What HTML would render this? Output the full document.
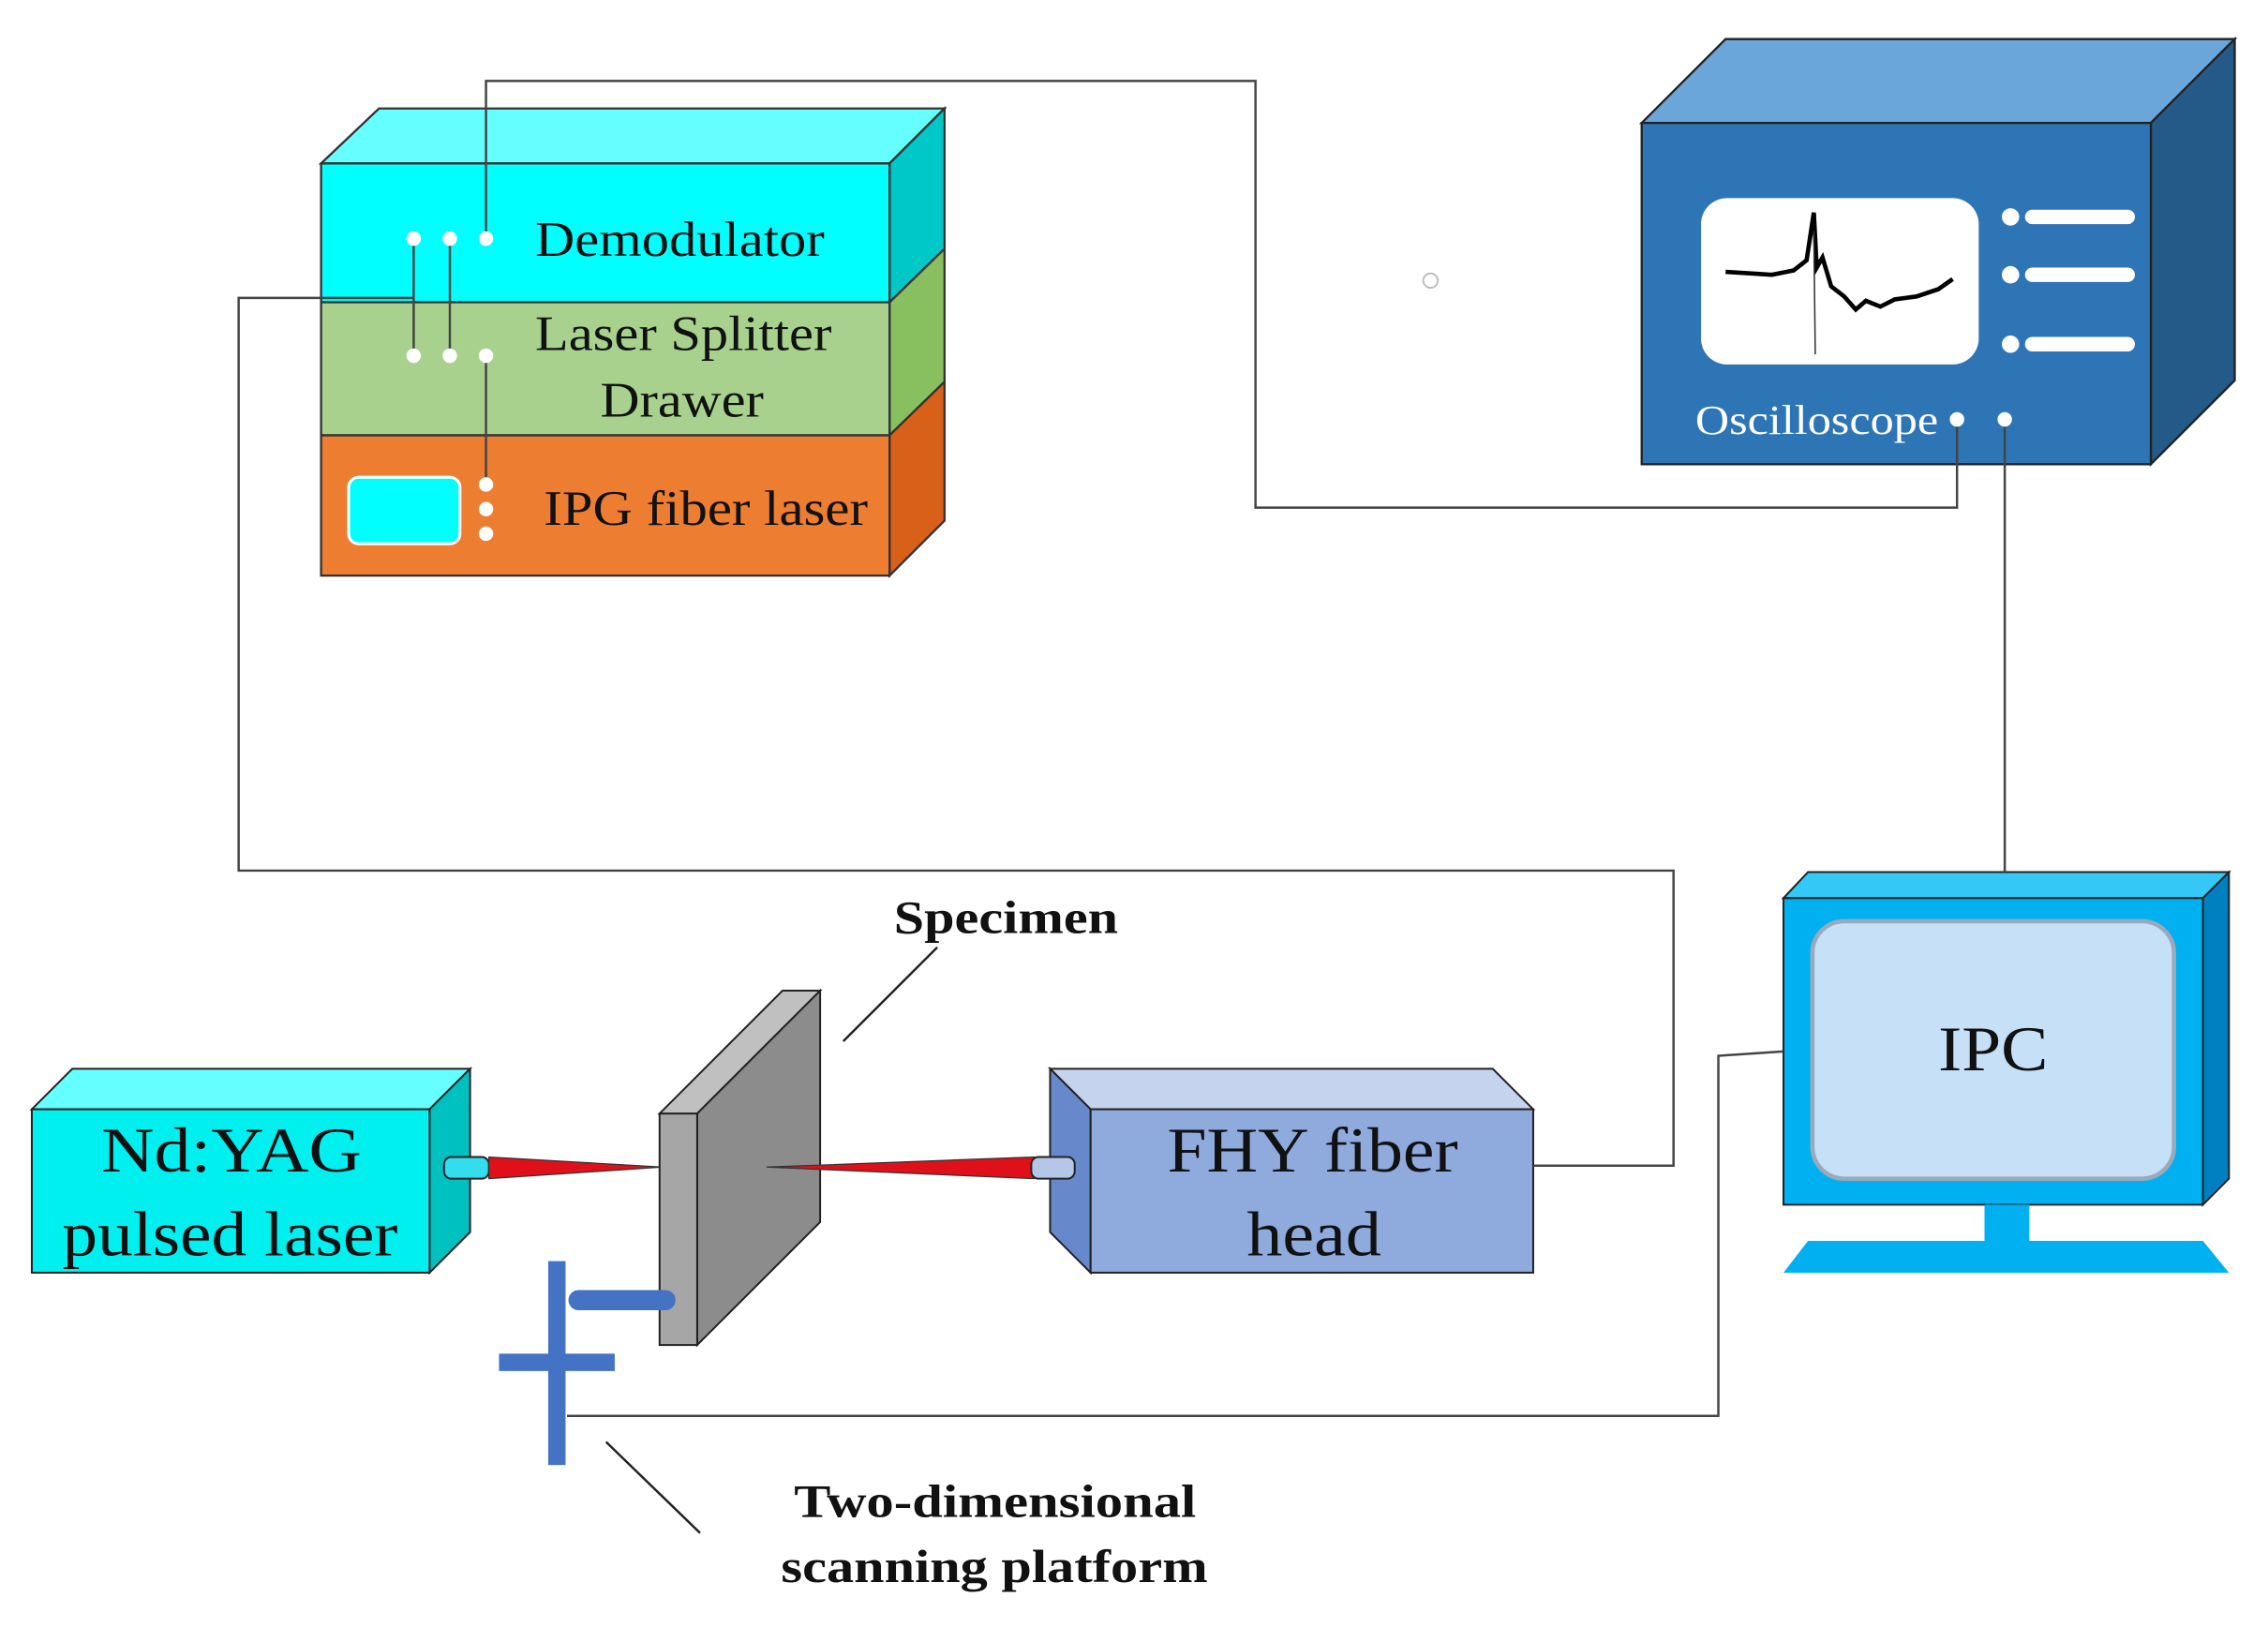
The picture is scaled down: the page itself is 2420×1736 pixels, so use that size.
<!DOCTYPE html>
<html><head><style>html,body{margin:0;padding:0;background:#fff;}svg{display:block}</style></head>
<body>
<svg width="2420" height="1736" viewBox="0 0 1568 1125" preserveAspectRatio="none" xmlns="http://www.w3.org/2000/svg" font-family="'Liberation Serif', serif">
<rect width="1568" height="1125" fill="#fff"/>
<circle cx="989" cy="194" r="5" fill="none" stroke="#bbb" stroke-width="1.2"/>

<!-- top stack -->
<g stroke="#333" stroke-width="1.5">
<polygon points="222,113 262,75 653,75 615,113" fill="#66ffff"/>
<polygon points="615,113 653,75 653,172 615,209" fill="#00c8c8"/>
<polygon points="615,209 653,172 653,264 615,301" fill="#88c060"/>
<polygon points="615,301 653,264 653,360 615,398" fill="#d86018"/>
<rect x="222" y="113" width="393" height="96" fill="#00ffff"/>
<rect x="222" y="209" width="393" height="92" fill="#a9d18e"/>
<rect x="222" y="301" width="393" height="97" fill="#ed7d31"/>
</g>
<rect x="241" y="330" width="77" height="46" rx="7" fill="#00ffff" stroke="#fff" stroke-width="2"/>
<g font-size="34" fill="#111">
<text x="370" y="177" textLength="200" lengthAdjust="spacingAndGlyphs">Demodulator</text>
<text x="370" y="242" textLength="205" lengthAdjust="spacingAndGlyphs">Laser Splitter</text>
<text x="415" y="288" textLength="113" lengthAdjust="spacingAndGlyphs">Drawer</text>
<text x="376" y="363" textLength="224" lengthAdjust="spacingAndGlyphs">IPG fiber laser</text>
</g>

<!-- oscilloscope -->
<g stroke="#222" stroke-width="1.5">
<polygon points="1135,85 1193,27 1545,27 1487,85" fill="#6aa6d9"/>
<polygon points="1487,85 1545,27 1545,263 1487,321" fill="#245a88"/>
<rect x="1135" y="85" width="352" height="236" fill="#2e75b6"/>
</g>
<rect x="1176" y="137" width="192" height="115" rx="18" fill="#fff"/>
<polyline points="1193,188 1210,189 1225,190 1240,187 1249,180 1254,147 1256,185 1260,178 1266,198 1275,205 1283,214 1290,208 1300,212 1310,207 1325,205 1340,200 1350,193" fill="none" stroke="#000" stroke-width="3"/>
<line x1="1254" y1="160" x2="1255" y2="245" stroke="#333" stroke-width="1"/>
<g fill="#fff">
<circle cx="1390" cy="150" r="6"/><rect x="1400" y="145" width="76" height="10" rx="5"/>
<circle cx="1390" cy="190" r="6"/><rect x="1400" y="185" width="76" height="10" rx="5"/>
<circle cx="1390" cy="238" r="6"/><rect x="1400" y="233" width="76" height="10" rx="5"/>
</g>
<text x="1172" y="300" font-size="29" fill="#fff" textLength="168" lengthAdjust="spacingAndGlyphs">Oscilloscope</text>

<!-- IPC -->
<g stroke="#222" stroke-width="1.3">
<polygon points="1233,621 1250,603 1541,603 1523,621" fill="#33c8f5"/>
<polygon points="1523,621 1541,603 1541,815 1523,833" fill="#0080c0"/>
<rect x="1233" y="621" width="290" height="212" fill="#00b0f0"/>
</g>
<rect x="1253" y="637" width="250" height="178" rx="22" fill="#c6e0f8" stroke="#9ab" stroke-width="3"/>
<text x="1340" y="740" font-size="44" fill="#111" textLength="76" lengthAdjust="spacingAndGlyphs">IPC</text>
<rect x="1372" y="833" width="31" height="25" fill="#00b0f0"/>
<polygon points="1250,858 1523,858 1541,880 1233,880" fill="#00b0f0"/>

<!-- Nd:YAG -->
<g stroke="#222" stroke-width="1.3">
<polygon points="22,767 50,739 325,739 297,767" fill="#66ffff"/>
<polygon points="297,767 325,739 325,852 297,880" fill="#00c0c0"/>
<rect x="22" y="767" width="275" height="113" fill="#00f0f0"/>
<rect x="307" y="800" width="31" height="15" rx="5" fill="#33ddee"/>
</g>
<g font-size="44" fill="#111">
<text x="70" y="810" textLength="180" lengthAdjust="spacingAndGlyphs">Nd:YAG</text>
<text x="43" y="868" textLength="232" lengthAdjust="spacingAndGlyphs">pulsed laser</text>
</g>
<polygon points="338,800 338,815 458,807" fill="#e0101a" stroke="#333" stroke-width="0.8"/>

<!-- specimen -->
<g stroke="#222" stroke-width="1.3">
<polygon points="456,770 541,685 567,685 482,770" fill="#c0c0c0"/>
<polygon points="482,770 567,685 567,845 482,930" fill="#8c8c8c"/>
<rect x="456" y="770" width="26" height="160" fill="#a6a6a6"/>
</g>
<polygon points="715,800 715,815 530,807" fill="#e0101a" stroke="#333" stroke-width="0.8"/>

<!-- FHY -->
<g stroke="#222" stroke-width="1.3">
<polygon points="726,739 1032,739 1060,767 754,767" fill="#c5d3ee"/>
<polygon points="726,739 754,767 754,880 726,852" fill="#6888cc"/>
<rect x="754" y="767" width="306" height="113" fill="#8faadc"/>
<rect x="713" y="800" width="30" height="15" rx="5" fill="#b4c7e7"/>
</g>
<g font-size="44" fill="#111">
<text x="807" y="810" textLength="201" lengthAdjust="spacingAndGlyphs">FHY fiber</text>
<text x="862" y="868" textLength="93" lengthAdjust="spacingAndGlyphs">head</text>
</g>

<!-- platform -->
<g fill="#4472c4">
<rect x="379" y="872" width="12" height="141"/>
<rect x="345" y="936" width="80" height="12"/>
<rect x="393" y="892" width="74" height="14" rx="7"/>
</g>

<!-- connectors (on top) -->
<g fill="none" stroke="#444" stroke-width="1.6">
<polyline points="336,165 336,56 868,56 868,351 1353,351 1353,290"/>
<polyline points="286,206 165,206 165,602 1157,602 1157,806 1060,806"/>
<polyline points="1386,290 1386,603"/>
<polyline points="1233,727 1188,730 1188,979 392,979"/>
<line x1="286" y1="165" x2="286" y2="246"/><line x1="311" y1="165" x2="311" y2="246"/><line x1="336" y1="246" x2="336" y2="335"/>
<line x1="648" y1="655" x2="583" y2="720" stroke="#222"/>
<line x1="419" y1="997" x2="484" y2="1060" stroke="#222"/>
</g>
<g fill="#fff">
<circle cx="286" cy="165" r="5"/><circle cx="311" cy="165" r="5"/><circle cx="336" cy="165" r="5"/>
<circle cx="286" cy="246" r="5"/><circle cx="311" cy="246" r="5"/><circle cx="336" cy="246" r="5"/>
<circle cx="336" cy="335" r="5"/><circle cx="336" cy="352" r="5"/><circle cx="336" cy="369" r="5"/>
<circle cx="1353" cy="290" r="5"/><circle cx="1386" cy="290" r="5"/>
</g>

<g font-size="32" font-weight="bold" fill="#111">
<text x="618" y="645" textLength="155" lengthAdjust="spacingAndGlyphs">Specimen</text>
<text x="549" y="1049" textLength="278" lengthAdjust="spacingAndGlyphs">Two-dimensional</text>
<text x="540" y="1094" textLength="295" lengthAdjust="spacingAndGlyphs">scanning platform</text>
</g>
</svg>
</body></html>
